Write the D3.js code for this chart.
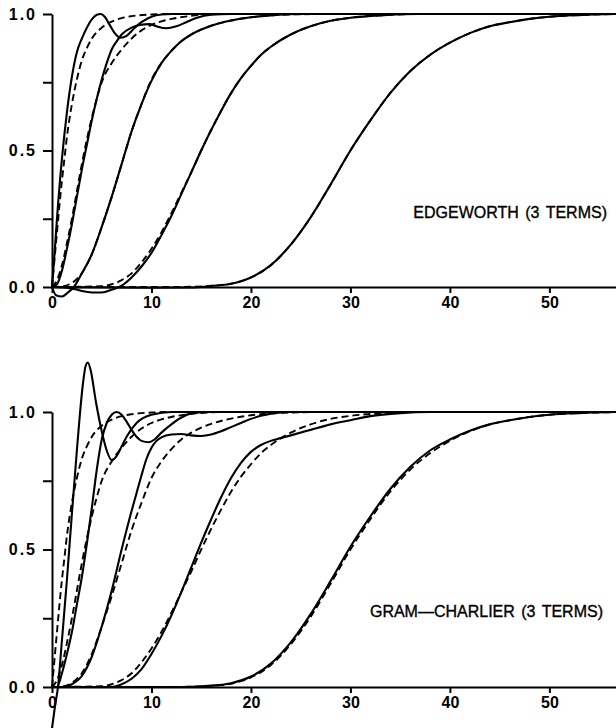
<!DOCTYPE html>
<html>
<head>
<meta charset="utf-8">
<script src="https://cdn.jsdelivr.net/npm/d3@7"></script>
<style>
  html, body { margin: 0; padding: 0; background: #fff; }
  svg { display: block; }
  .tick text { font-family: "Liberation Sans", Arial, sans-serif; font-weight: bold; font-size: 16px; fill: #000; }
  .yax .tick text { letter-spacing: 2px; }
  .lbl { font-family: "Liberation Sans", Arial, sans-serif; font-size: 16px; fill: #000; stroke: #000; stroke-width: 0.35px; word-spacing: 2px; }
</style>
</head>
<body>
<svg id="chart" width="616" height="728"></svg>
<script>
// ---------- data ----------
const xTicks = [0, 10, 20, 30, 40, 50];
const yTicks = [0, 0.25, 0.5, 0.75, 1.0];
const yLabelled = [0, 0.5, 1.0];
const panelTitles = ["EDGEWORTH (3 TERMS)", "GRAM\u2014CHARLIER (3 TERMS)"];

// exact distributions (dashed), common to both panels
const exactA = [[0,0],[0.25,0.1],[0.5,0.2],[0.75,0.3],[1,0.39],[1.25,0.47],[1.5,0.55],[2,0.67],[2.5,0.76],[3,0.83],[3.5,0.875],[4,0.91],[5,0.95],[6,0.972],[7,0.985],[8,0.992],[10,0.998],[12,1],[57,1]];
const exactB = [[0,0],[0.5,0.025],[1,0.08],[1.5,0.16],[2,0.25],[2.5,0.35],[3,0.45],[3.5,0.54],[4,0.62],[4.5,0.69],[5,0.75],[6,0.82],[7,0.87],[8,0.91],[9,0.94],[10,0.96],[11,0.973],[12,0.982],[14,0.993],[17,1],[57,1]];
const exactC = [[0,0],[1,0.002],[2,0.015],[3,0.05],[4,0.12],[5,0.22],[6,0.33],[7,0.45],[8,0.57],[9,0.67],[10,0.76],[11,0.82],[12,0.865],[13,0.9],[14,0.925],[15,0.943],[16,0.957],[18,0.976],[20,0.988],[22,0.995],[25,0.999],[28,1],[57,1]];
const exactD = [[0,0],[5,0.003],[6,0.01],[7,0.025],[8,0.05],[9,0.09],[10,0.14],[11,0.2],[12,0.27],[13,0.345],[14,0.42],[15,0.5],[16,0.575],[17,0.645],[18,0.71],[19,0.765],[20,0.81],[21,0.85],[22,0.88],[24,0.925],[26,0.955],[28,0.975],[30,0.986],[33,0.995],[37,1],[57,1]];
const exactE = [[0,0],[12,0],[14,0.001],[16,0.004],[18,0.012],[20,0.035],[22,0.08],[24,0.155],[26,0.255],[28,0.375],[30,0.5],[32,0.61],[34,0.71],[36,0.79],[38,0.85],[40,0.895],[42,0.93],[44,0.955],[46,0.97],[48,0.982],[50,0.99],[53,0.996],[57,1]];

// Edgeworth approximations (solid, top panel)
const edgeA = [[0,0],[0.25,0.12],[0.5,0.25],[1,0.47],[1.5,0.64],[2,0.77],[2.5,0.86],[3,0.91],[3.5,0.95],[4,0.98],[4.5,0.997],[4.9,1.0],[5.3,0.99],[5.8,0.96],[6.3,0.93],[6.9,0.913],[7.5,0.92],[8.2,0.945],[9,0.97],[10,0.99],[11,0.998],[12,1],[57,1]];
const edgeB = [[0,0],[0.5,0.01],[1,0.06],[1.5,0.14],[2,0.23],[2.5,0.33],[3,0.43],[3.5,0.52],[4,0.61],[4.5,0.69],[5,0.76],[5.5,0.82],[6,0.87],[6.5,0.9],[7,0.925],[8,0.95],[8.8,0.96],[9.8,0.963],[10.5,0.955],[11.5,0.948],[12.5,0.955],[13.5,0.97],[14.5,0.985],[16,0.997],[18,1],[57,1]];
const edgeC = [[0,0],[0.4,-0.03],[1,-0.035],[1.6,-0.02],[2.2,0],[3,0.05],[4,0.12],[5,0.22],[6,0.33],[7,0.45],[8,0.57],[9,0.67],[10,0.755],[11,0.82],[12,0.865],[13,0.9],[14,0.925],[15,0.943],[16,0.957],[18,0.976],[20,0.988],[22,0.995],[25,1],[57,1]];
const edgeD = [[0,0],[2,-0.005],[3,-0.015],[4,-0.02],[5,-0.02],[6,-0.01],[7,0.005],[8,0.035],[9,0.075],[10,0.125],[11,0.19],[12,0.26],[13,0.34],[14,0.42],[15,0.5],[16,0.575],[17,0.645],[18,0.71],[19,0.765],[20,0.81],[21,0.85],[22,0.88],[24,0.925],[26,0.955],[28,0.975],[30,0.986],[33,0.995],[37,1],[57,1]];
const edgeE = [[0,0],[10,-0.003],[14,-0.002],[16,0.004],[18,0.012],[20,0.035],[22,0.08],[24,0.155],[26,0.255],[28,0.375],[30,0.5],[32,0.61],[34,0.71],[36,0.79],[38,0.85],[40,0.895],[42,0.93],[44,0.955],[46,0.97],[48,0.982],[50,0.99],[53,0.996],[57,1]];

// Gram-Charlier approximations (solid, bottom panel)
const gramA = [[0,-0.15],[0.3,-0.07],[0.6,0],[1,0.17],[1.5,0.39],[2,0.63],[2.5,0.86],[2.8,0.99],[3.1,1.1],[3.4,1.17],[3.6,1.18],[3.9,1.15],[4.4,1.04],[5,0.93],[5.5,0.86],[6,0.825],[6.5,0.84],[7,0.875],[7.5,0.91],[8.5,0.96],[10,0.99],[12,1],[57,1]];
const gramB = [[0,0],[0.5,0],[1,0.05],[1.5,0.12],[2,0.2],[2.5,0.3],[3,0.4],[3.5,0.52],[4,0.65],[4.5,0.79],[5,0.9],[5.5,0.96],[6,0.99],[6.5,1.0],[7,0.99],[7.5,0.965],[8,0.935],[8.5,0.91],[9,0.895],[9.7,0.89],[10.3,0.9],[11,0.925],[12,0.955],[13,0.98],[14,0.995],[16,1],[57,1]];
const gramC = [[0,0],[1,0],[2,0.01],[3,0.04],[4,0.11],[5,0.22],[6,0.35],[7,0.5],[8,0.64],[8.5,0.705],[9,0.77],[9.5,0.83],[10,0.87],[10.5,0.895],[11,0.908],[12,0.918],[13,0.92],[14,0.915],[15,0.913],[16,0.918],[17,0.93],[18,0.945],[19,0.96],[20,0.975],[21,0.986],[22,0.994],[24,1],[57,1]];
const gramD = [[0,0],[6,0],[7,0.01],[8,0.03],[9,0.065],[10,0.12],[11,0.185],[12,0.26],[13,0.345],[14,0.435],[15,0.525],[16,0.61],[17,0.69],[18,0.76],[19,0.815],[20,0.855],[21,0.88],[22,0.895],[23,0.905],[24,0.915],[26,0.935],[28,0.955],[30,0.97],[32,0.985],[35,0.996],[38,1],[57,1]];
const gramE = [[0,0],[12,0],[14,0.001],[16,0.005],[18,0.014],[20,0.038],[22,0.085],[24,0.162],[26,0.265],[28,0.385],[30,0.51],[32,0.62],[34,0.72],[36,0.8],[38,0.86],[40,0.9],[42,0.932],[44,0.955],[46,0.97],[48,0.982],[50,0.99],[53,0.996],[57,1]];

const exactSeries = [exactA, exactB, exactC, exactD, exactE];
const edgeSeries = [edgeA, edgeB, edgeC, edgeD, edgeE];
const gramSeries = [gramA, gramB, gramC, gramD, gramE];

// ---------- drawing ----------
const svg = d3.select("#chart");
const x = d3.scaleLinear().domain([0, 57]).range([52, 619]);

const panels = [
  { y: d3.scaleLinear().domain([0, 1]).range([287, 14]), approx: edgeSeries, title: panelTitles[0], tx: 607, ty: 218 },
  { y: d3.scaleLinear().domain([0, 1]).range([687, 412]), approx: gramSeries, title: panelTitles[1], tx: 603, ty: 617 }
];

panels.forEach(p => {
  const g = svg.append("g");
  const line = d3.line().x(d => x(d[0])).y(d => p.y(d[1])).curve(d3.curveMonotoneX);

  // exact (dashed)
  g.selectAll("path.exact").data(exactSeries).join("path")
    .attr("class", "exact")
    .attr("d", line)
    .attr("fill", "none").attr("stroke", "#000").attr("stroke-width", 1.9)
    .attr("stroke-dasharray", "7,4");

  // approximations (solid)
  g.selectAll("path.approx").data(p.approx).join("path")
    .attr("class", "approx")
    .attr("d", line)
    .attr("fill", "none").attr("stroke", "#000").attr("stroke-width", 2.1);

  // x axis
  const xa = g.append("g").attr("transform", `translate(0,${p.y(0)})`)
    .call(d3.axisBottom(x).tickValues(xTicks).tickSize(6).tickSizeOuter(0).tickPadding(4).tickFormat(d3.format("d")));
  xa.select(".domain").attr("stroke-width", 2);
  xa.selectAll(".tick line").attr("stroke-width", 2);

  // y axis
  const ya = g.append("g").attr("class", "yax").attr("transform", `translate(${x(0)},0)`)
    .call(d3.axisLeft(p.y).tickValues(yTicks).tickSize(9).tickSizeOuter(0).tickPadding(6)
      .tickFormat(d => yLabelled.includes(d) ? d3.format(".1f")(d) : ""));
  ya.select(".domain").attr("stroke-width", 2);
  ya.selectAll(".tick line").attr("stroke-width", 2);

  // title
  g.append("text").attr("class", "lbl")
    .attr("x", p.tx).attr("y", p.ty).attr("text-anchor", "end")
    .text(p.title);
});
</script>
</body>
</html>
